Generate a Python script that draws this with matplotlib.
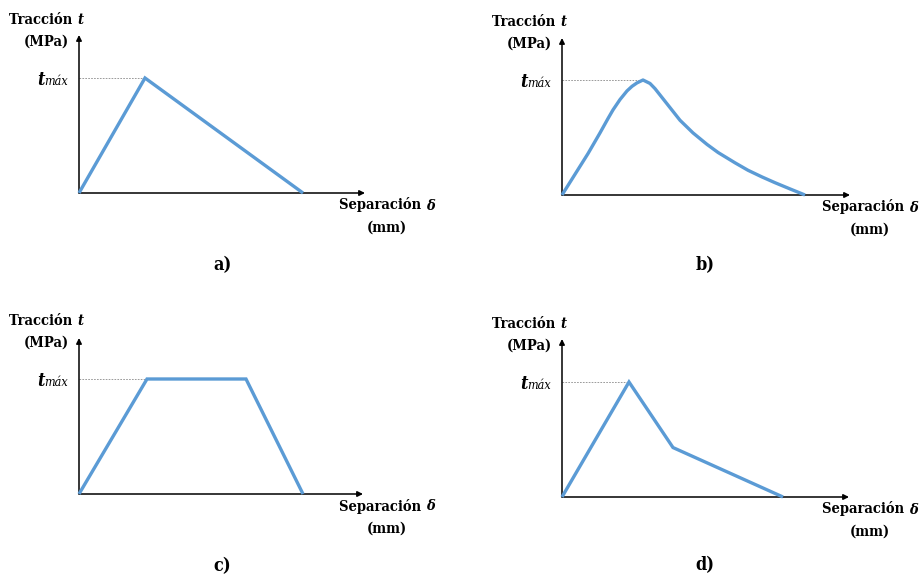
import matplotlib
matplotlib.use("Agg")
import matplotlib.pyplot as plt
from matplotlib.offsetbox import TextArea, HPacker, AnnotationBbox

# ---- data (tmax = 1, separation in arbitrary units) ----
sep_a = [0, 0.66, 2.24]
trac_a = [0, 1.0, 0]

sep_b = [0, 0.26, 0.38, 0.46, 0.51, 0.58, 0.65, 0.70, 0.75, 0.81, 0.88, 0.93, 0.98, 1.08, 1.18,
         1.31, 1.45, 1.56, 1.73, 1.86, 2.00, 2.13, 2.28, 2.43]
trac_b = [0, 0.36, 0.54, 0.665, 0.74, 0.83, 0.905, 0.945, 0.975, 1.0, 0.97, 0.925, 0.87, 0.76, 0.65,
          0.54, 0.44, 0.37, 0.28, 0.215, 0.157, 0.107, 0.053, 0]

sep_c = [0, 0.68, 1.67, 2.24]
trac_c = [0, 1.0, 1.0, 0]

sep_d = [0, 0.67, 1.11, 2.21]
trac_d = [0, 1.0, 0.43, 0]

peak_sep = {"a": 0.66, "b": 0.80, "c": 0.68, "d": 0.67}
panel_labels = ["a)", "b)", "c)", "d)"]
ylabel_main = "Tracción "
ylabel_var = "t"
ylabel_unit = "(MPa)"
xlabel_main = "Separación "
xlabel_var = "δ"
xlabel_unit = "(mm)"
tmax_main = "t"
tmax_sub = "máx"

W, H = 924, 576
fig = plt.figure(figsize=(9.24, 5.76), dpi=100)
FONT = "DejaVu Serif"
STRETCH = "condensed"
BLUE = "#5b9bd5"

geo = {
    "a": (79, 193, 286, 158),
    "b": (562, 195, 288, 157),
    "c": (79, 494, 284, 156),
    "d": (562, 497, 287, 158),
}
data = {"a": (sep_a, trac_a), "b": (sep_b, trac_b), "c": (sep_c, trac_c), "d": (sep_d, trac_d)}
label_pos = {"a": (222, 265), "b": (705, 265), "c": (222, 566), "d": (705, 565)}
joins = {"a": "miter", "b": "round", "c": "miter", "d": "miter"}

XS = 100.0
YS = 115.0
FS = 10.5


def rich(parts, xy, align):
    areas = []
    for s, props in parts:
        tp = dict(family=FONT, stretch=STRETCH, color="black")
        tp.update(props)
        areas.append(TextArea(s, textprops=tp))
    pack = HPacker(children=areas, align="baseline", pad=0, sep=0)
    ab = AnnotationBbox(pack, xy, xycoords="figure pixels", frameon=False,
                        box_alignment=align, pad=0, annotation_clip=False)
    fig.add_artist(ab)


for i, key in enumerate(["a", "b", "c", "d"]):
    ox, oy, aw, ah = geo[key]
    ax = fig.add_axes([ox / W, 1 - oy / H, aw / W, ah / H])
    ax.set_xlim(0, aw / XS)
    ax.set_ylim(0, ah / YS)
    for s in ax.spines.values():
        s.set_visible(False)
    ax.set_xticks([])
    ax.set_yticks([])
    ax.patch.set_alpha(0)

    ax.annotate("", xy=(1, 0), xytext=(0, 0), xycoords="axes fraction",
                arrowprops=dict(arrowstyle="-|>", lw=1.1, color="black",
                                mutation_scale=8, shrinkA=0, shrinkB=0))
    ax.annotate("", xy=(0, 1), xytext=(0, 0), xycoords="axes fraction",
                arrowprops=dict(arrowstyle="-|>", lw=1.1, color="black",
                                mutation_scale=8, shrinkA=0, shrinkB=0))

    ax.plot([0, peak_sep[key]], [1, 1], ls=(0, (2, 1.5)), lw=0.6, color="#8a8a8a", zorder=1)

    x, y = data[key]
    ax.plot(x, y, color=BLUE, lw=2.4, solid_joinstyle=joins[key], solid_capstyle="butt",
            clip_on=False, zorder=3)

    fx, fy = ox, H - oy
    rich([(ylabel_main, dict(weight="bold", size=FS)),
          (ylabel_var, dict(weight="bold", style="italic", size=FS))],
         (fx - 33, fy + 173), (0.5, 0.5))
    rich([(ylabel_unit, dict(weight="bold", size=FS))], (fx - 33, fy + 151), (0.5, 0.5))
    rich([(tmax_main, dict(weight="bold", style="italic", size=13)),
          (tmax_sub, dict(style="italic", size=9))],
         (fx - 11, fy + YS - 2), (1.0, 0.5))
    rich([(xlabel_main, dict(weight="bold", size=FS)),
          (xlabel_var, dict(weight="bold", style="italic", size=FS))],
         (fx + 308, fy - 12), (0.5, 0.5))
    rich([(xlabel_unit, dict(weight="bold", size=FS))], (fx + 308, fy - 35), (0.5, 0.5))

    lx, ly = label_pos[key]
    fig.text(lx / W, 1 - ly / H, panel_labels[i], family=FONT, stretch=STRETCH, weight="bold",
             size=13, ha="center", va="center")

fig.savefig("out.png", dpi=100)
